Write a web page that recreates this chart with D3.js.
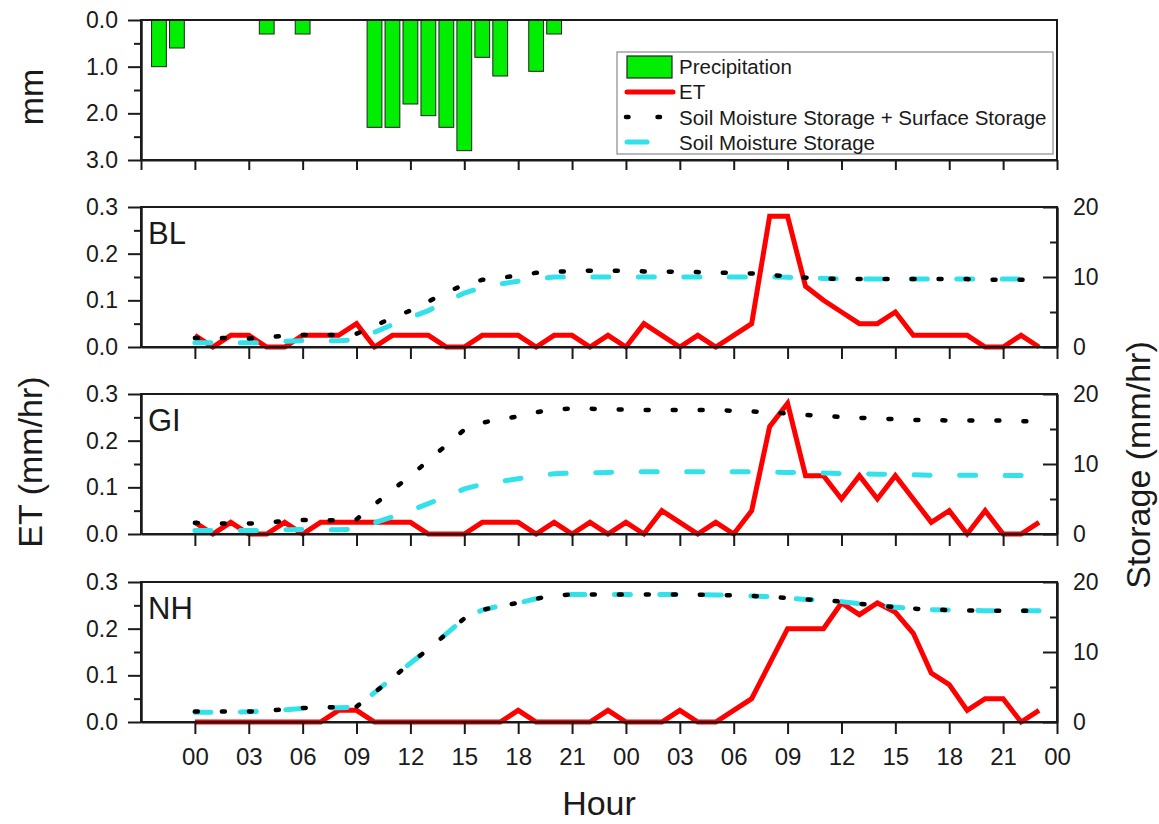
<!DOCTYPE html>
<html>
<head>
<meta charset="utf-8">
<script src="https://cdn.jsdelivr.net/npm/d3@7"></script>
<style>
body { margin: 0; background: #fff; }
svg { font-family: "Liberation Sans", Arial, sans-serif; }
</style>
</head>
<body>
<svg width="1159" height="824"></svg>
<script>
var svg = d3.select('svg');

// precipitation bars (hour relative to first 00, depth in mm)
var precipHour = [-2, -1, 4, 6, 10, 11, 12, 13, 14, 15, 16, 17, 19, 20];
var precipMm = [1.0, 0.6, 0.3, 0.3, 2.3, 2.3, 1.8, 2.05, 2.3, 2.8, 0.8, 1.2, 1.1, 0.3];

// hourly series, hour 0..47 = array index
var etBL = [0.025, 0, 0.025, 0.025, 0, 0, 0.025, 0.025, 0.025, 0.05, 0, 0.025, 0.025, 0.025, 0, 0, 0.025, 0.025, 0.025, 0, 0.025, 0.025, 0, 0.025,
            0, 0.05, 0.025, 0, 0.025, 0, 0.025, 0.05, 0.28, 0.28, 0.13, 0.1, 0.075, 0.05, 0.05, 0.075, 0.025, 0.025, 0.025, 0.025, 0, 0, 0.025, 0];
var smsBL = [1.3, 1.3, 1.3, 1.2, 1.4, 1.6, 1.7, 1.7, 1.7, 1.9, 3.0, 4.2, 5.2, 6.5, 7.8, 8.9, 9.6, 9.9, 10.2, 10.6, 10.8, 10.8, 10.9, 10.9,
             10.9, 10.8, 10.8, 10.7, 10.7, 10.6, 10.6, 10.5, 10.3, 10.1, 9.9, 9.8, 9.7, 9.7, 9.7, 9.7, 9.7, 9.7, 9.7, 9.7, 9.6, 9.6, 9.6, 9.6];
var smBL = [0.6, 0.6, 0.6, 0.6, 0.6, 0.8, 0.9, 0.9, 0.9, 1.0, 2.1, 3.2, 4.2, 5.2, 6.5, 7.7, 8.5, 9.0, 9.4, 9.7, 10.0, 10.0, 10.0, 10.0,
            10.0, 10.0, 10.0, 10.0, 10.0, 10.0, 10.0, 10.0, 10.0, 9.95, 9.9, 9.8, 9.75, 9.7, 9.7, 9.7, 9.7, 9.7, 9.7, 9.7, 9.7, 9.7, 9.7, 9.7];

var etGI = [0.025, 0, 0.025, 0, 0, 0.025, 0, 0.025, 0.025, 0.025, 0.025, 0.025, 0.025, 0, 0, 0, 0.025, 0.025, 0.025, 0, 0.025, 0, 0.025, 0,
            0.025, 0, 0.05, 0.025, 0, 0.025, 0, 0.05, 0.23, 0.28, 0.125, 0.125, 0.075, 0.125, 0.075, 0.125, 0.075, 0.025, 0.05, 0, 0.05, 0, 0, 0.025];
var smsGI = [1.6, 1.5, 1.5, 1.5, 1.6, 1.9, 2.0, 2.0, 1.95, 2.1, 4.2, 6.3, 8.3, 10.5, 12.7, 14.9, 15.9, 16.4, 16.8, 17.4, 17.8, 17.9, 17.9, 17.8,
             17.8, 17.7, 17.7, 17.7, 17.7, 17.7, 17.6, 17.5, 17.4, 17.2, 17.0, 16.9, 16.7, 16.6, 16.5, 16.4, 16.3, 16.3, 16.2, 16.2, 16.2, 16.2, 16.1, 16.1];
var smGI = [0.5, 0.5, 0.5, 0.5, 0.5, 0.6, 0.65, 0.6, 0.6, 0.7, 1.6, 2.45, 3.35, 4.35, 5.35, 6.45, 7.1, 7.5, 7.9, 8.3, 8.6, 8.7, 8.75, 8.8,
            8.85, 8.9, 8.9, 8.9, 8.9, 8.9, 8.9, 8.9, 8.85, 8.8, 8.75, 8.7, 8.65, 8.6, 8.55, 8.5, 8.45, 8.4, 8.4, 8.4, 8.4, 8.35, 8.35, 8.35];

var etNH = [0, 0, 0, 0, 0, 0, 0, 0, 0.025, 0.025, 0, 0, 0, 0, 0, 0, 0, 0, 0.025, 0, 0, 0, 0, 0.025,
            0, 0, 0, 0.025, 0, 0, 0.025, 0.05, 0.125, 0.2, 0.2, 0.2, 0.255, 0.23, 0.255, 0.235, 0.19, 0.105, 0.08, 0.025, 0.05, 0.05, 0, 0.025];
var smsNH = [1.5, 1.5, 1.5, 1.5, 1.6, 1.8, 2.0, 2.1, 2.1, 2.2, 4.2, 6.3, 8.4, 10.4, 12.6, 14.8, 16.0, 16.6, 17.0, 17.6, 18.1, 18.2, 18.2, 18.2,
             18.2, 18.2, 18.2, 18.2, 18.2, 18.15, 18.1, 18.0, 17.9, 17.7, 17.5, 17.4, 17.2, 16.9, 16.65, 16.4, 16.2, 16.05, 16.0, 15.95, 15.9, 15.9, 15.9, 15.9];
var smNH = [1.4, 1.4, 1.4, 1.45, 1.55, 1.75, 1.95, 2.05, 2.05, 2.1, 4.2, 6.3, 8.4, 10.4, 12.6, 14.8, 16.0, 16.6, 17.0, 17.6, 18.1, 18.2, 18.2, 18.2,
            18.2, 18.2, 18.2, 18.2, 18.2, 18.15, 18.1, 18.0, 17.9, 17.7, 17.5, 17.4, 17.2, 16.9, 16.65, 16.4, 16.2, 16.05, 16.0, 15.95, 15.9, 15.9, 15.9, 15.9];

// ticks
var xTickHours = [0, 3, 6, 9, 12, 15, 18, 21, 24, 27, 30, 33, 36, 39, 42, 45, 48];
var xTickLabels = ['00', '03', '06', '09', '12', '15', '18', '21', '00', '03', '06', '09', '12', '15', '18', '21', '00'];
var topTickHours = [-3, 0, 3, 6, 9, 12, 15, 18, 21, 24, 27, 30, 33, 36, 39, 42, 45, 48];
var precipTicks = [0, 1, 2, 3];
var precipMinor = [0.5, 1.5, 2.5];
var etTicks = [0, 0.1, 0.2, 0.3];
var etMinor = [0.05, 0.15, 0.25];
var stTicks = [0, 10, 20];
var stMinor = [5, 15];

var legendItems = ['Precipitation', 'ET', 'Soil Moisture Storage + Surface Storage', 'Soil Moisture Storage'];

var ink = '#1a1a1a';
var left = 141, right = 1057;
var x = d3.scaleLinear().domain([-3, 48]).range([left, right]);

function styleAxis(g, size) {
    g.attr('font-family', null).attr('font-size', null);
    g.selectAll('line').attr('stroke', ink).attr('stroke-width', 2);
    g.selectAll('path').attr('stroke', ink).attr('stroke-width', 2);
    g.selectAll('text').attr('fill', ink).style('font-size', (size || 23) + 'px');
}

function minorAxis(axis, vals, size) {
    return axis.tickValues(vals).tickSize(size).tickSizeOuter(0).tickFormat('');
}

// ---------- top panel: precipitation ----------
var yP = d3.scaleLinear().domain([0, 3]).range([20, 160]);
var bw = 14.8;

svg.selectAll('rect.bar')
    .data(precipHour)
    .enter()
    .append('rect')
    .attr('class', 'bar')
    .attr('x', function(d){ return x(d) - bw / 2; })
    .attr('y', yP(0))
    .attr('width', bw)
    .attr('height', function(d, i){ return yP(precipMm[i]) - yP(0); })
    .attr('fill', '#00ee00')
    .attr('stroke', '#222')
    .attr('stroke-width', 1);

svg.append('rect')
    .attr('x', left).attr('y', yP(0))
    .attr('width', right - left).attr('height', yP(3) - yP(0))
    .attr('fill', 'none').attr('stroke', ink).attr('stroke-width', 2);

var gp = svg.append('g').attr('transform', 'translate(' + left + ',0)')
    .call(d3.axisLeft(yP).tickValues(precipTicks).tickSize(13).tickSizeOuter(0).tickPadding(10)
        .tickFormat(d3.format('.1f')));
styleAxis(gp);
var gpm = svg.append('g').attr('transform', 'translate(' + left + ',0)')
    .call(minorAxis(d3.axisLeft(yP), precipMinor, 7));
styleAxis(gpm);

var gpx = svg.append('g').attr('transform', 'translate(0,' + yP(3) + ')')
    .call(d3.axisBottom(x).tickValues(topTickHours).tickSize(10).tickSizeOuter(0).tickFormat(''));
styleAxis(gpx);

svg.append('text')
    .attr('transform', 'translate(43,97) rotate(-90)')
    .attr('text-anchor', 'middle')
    .style('font-size', '34px')
    .attr('fill', ink)
    .text('mm');

// legend
var lg = svg.append('g');
lg.append('rect')
    .attr('x', 617).attr('y', 52).attr('width', 436).attr('height', 102)
    .attr('fill', '#fff').attr('stroke', '#8a8a8a').attr('stroke-width', 1.2);
lg.append('rect')
    .attr('x', 627).attr('y', 56).attr('width', 45).attr('height', 22)
    .attr('fill', '#00ee00').attr('stroke', '#222').attr('stroke-width', 1.2);
lg.append('line')
    .attr('x1', 627).attr('x2', 673).attr('y1', 92).attr('y2', 92)
    .attr('stroke', '#ff0000').attr('stroke-width', 5).attr('stroke-linecap', 'round');
lg.append('line')
    .attr('x1', 626).attr('x2', 660).attr('y1', 117).attr('y2', 117)
    .attr('stroke', '#000').attr('stroke-width', 4.5).attr('stroke-linecap', 'round')
    .attr('stroke-dasharray', '2.5 29');
lg.append('line')
    .attr('x1', 627).attr('x2', 647).attr('y1', 142).attr('y2', 142)
    .attr('stroke', '#33e1ea').attr('stroke-width', 5).attr('stroke-linecap', 'round');
lg.selectAll('text.leg')
    .data(legendItems)
    .enter()
    .append('text')
    .attr('class', 'leg')
    .attr('x', 679)
    .attr('y', function(d, i){ return 74 + i * 25.3; })
    .style('font-size', '20.5px')
    .attr('fill', ink)
    .text(function(d){ return d; });

// ---------- lower panels ----------
var panels = [
    {name: 'BL', top: 207, et: etBL, sms: smsBL, sm: smBL},
    {name: 'GI', top: 394, et: etGI, sms: smsGI, sm: smGI},
    {name: 'NH', top: 582, et: etNH, sms: smsNH, sm: smNH}
];
var ph = 140;

panels.forEach(function(p, k){
    var bottom = p.top + ph;
    var yE = d3.scaleLinear().domain([0, 0.3]).range([bottom, p.top]);
    var yS = d3.scaleLinear().domain([0, 20]).range([bottom, p.top]);

    var lineE = d3.line()
        .x(function(d, i){ return x(i); })
        .y(function(d){ return yE(d); });
    var lineS = d3.line()
        .x(function(d, i){ return x(i); })
        .y(function(d){ return yS(d); });

    var g = svg.append('g');

    g.append('path')
        .attr('d', lineE(p.et))
        .attr('fill', 'none')
        .attr('stroke', '#ff0000')
        .attr('stroke-width', 5)
        .attr('stroke-linejoin', 'miter');

    g.append('path')
        .attr('d', lineS(p.sm))
        .attr('fill', 'none')
        .attr('stroke', '#33e1ea')
        .attr('stroke-width', 5)
        .attr('stroke-linecap', 'round')
        .attr('stroke-dasharray', '16 29.5');

    g.append('path')
        .attr('d', lineS(p.sms))
        .attr('fill', 'none')
        .attr('stroke', '#000')
        .attr('stroke-width', 4.5)
        .attr('stroke-linecap', 'round')
        .attr('stroke-dasharray', '3 24');

    g.append('rect')
        .attr('x', left).attr('y', p.top)
        .attr('width', right - left).attr('height', ph)
        .attr('fill', 'none').attr('stroke', ink).attr('stroke-width', 2);

    var gl = g.append('g').attr('transform', 'translate(' + left + ',0)')
        .call(d3.axisLeft(yE).tickValues(etTicks).tickSize(13).tickSizeOuter(0).tickPadding(10)
            .tickFormat(d3.format('.1f')));
    styleAxis(gl);
    var glm = g.append('g').attr('transform', 'translate(' + left + ',0)')
        .call(minorAxis(d3.axisLeft(yE), etMinor, 7));
    styleAxis(glm);

    var gr = g.append('g').attr('transform', 'translate(' + right + ',0)')
        .call(d3.axisRight(yS).tickValues(stTicks).tickSize(-14).tickSizeOuter(0).tickPadding(16));
    styleAxis(gr);
    var grm = g.append('g').attr('transform', 'translate(' + right + ',0)')
        .call(minorAxis(d3.axisRight(yS), stMinor, -7));
    styleAxis(grm);

    var isLast = (k === panels.length - 1);
    var gx = g.append('g').attr('transform', 'translate(0,' + bottom + ')')
        .call(d3.axisBottom(x).tickValues(xTickHours).tickSize(12).tickSizeOuter(0).tickPadding(14)
            .tickFormat(function(d, i){ return isLast ? xTickLabels[i] : ''; }));
    styleAxis(gx, 24);

    g.append('text')
        .attr('x', 148)
        .attr('y', p.top + 37)
        .style('font-size', '31px')
        .attr('fill', ink)
        .text(p.name);
});

// axis titles
svg.append('text')
    .attr('transform', 'translate(42,462) rotate(-90)')
    .attr('text-anchor', 'middle')
    .style('font-size', '34px')
    .attr('fill', ink)
    .text('ET (mm/hr)');

svg.append('text')
    .attr('transform', 'translate(1150,465) rotate(-90)')
    .attr('text-anchor', 'middle')
    .style('font-size', '34px')
    .attr('fill', ink)
    .text('Storage (mm/hr)');

svg.append('text')
    .attr('x', (left + right) / 2)
    .attr('y', 815)
    .attr('text-anchor', 'middle')
    .style('font-size', '34px')
    .attr('fill', ink)
    .text('Hour');
</script>
</body>
</html>
